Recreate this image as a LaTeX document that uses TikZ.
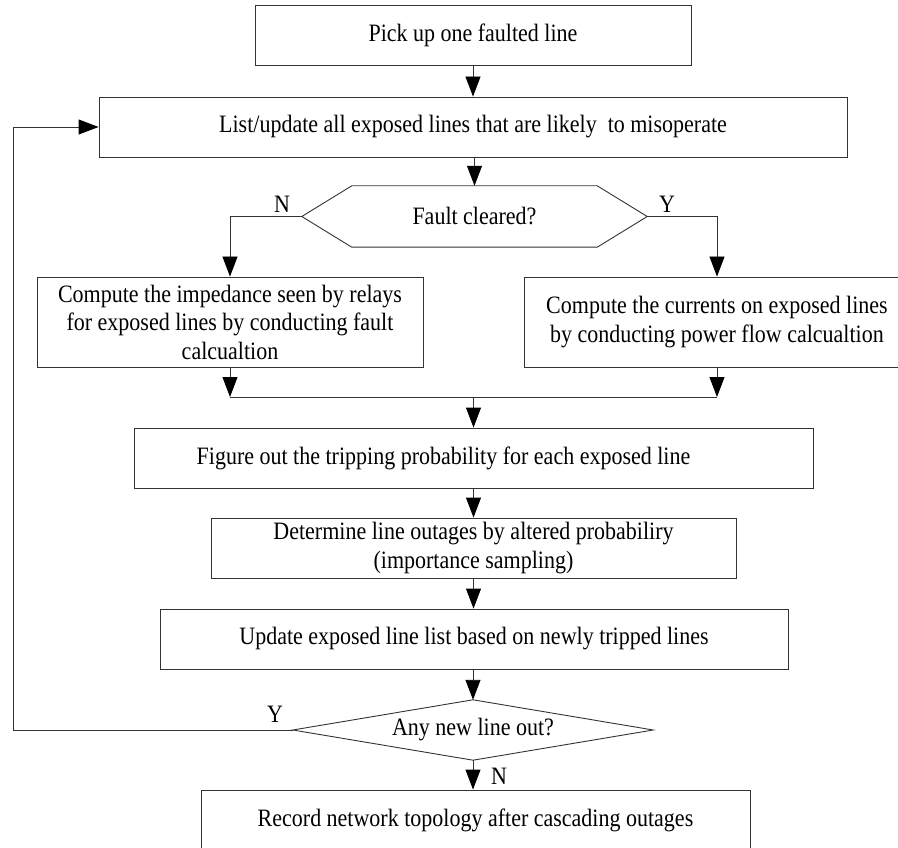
\documentclass[tikz,border=0pt]{standalone}
\usepackage{fontspec}
\setmainfont{Liberation Serif}[FakeStretch=0.88]
\usetikzlibrary{arrows.meta,calc}
\begin{document}
\begin{tikzpicture}[x=1pt,y=-1pt,
  every node/.style={font=\fontsize{25}{28.5}\selectfont, text=black},
  box/.style={draw=black!80, line width=0.9pt, inner sep=0pt, align=center},
  conn/.style={draw=black!80, line width=0.9pt},
  arr/.style={conn, -{Triangle[length=20pt,width=15pt,color=black]}},
  lbl/.style={inner sep=0pt}]
\clip (0,0) rectangle (898,848);

% process steps
\node[box, minimum width=436pt, minimum height=60pt] (pick) at (473,35) {Pick up one faulted line};
\node[box, minimum width=748pt, minimum height=60pt] (list) at (473,127) {List/update all exposed lines that are likely\ \ to misoperate};

% decision: fault cleared (hexagon)
\node[inner sep=0pt, minimum width=345pt, minimum height=61pt] (hex) at (474.5,216.5) {Fault cleared?};
\draw[conn] (hex.west) -- ([xshift=50pt]hex.north west) -- ([xshift=-50pt]hex.north east)
  -- (hex.east) -- ([xshift=-50pt]hex.south east) -- ([xshift=50pt]hex.south west) -- cycle;

\node[box, minimum width=386pt, minimum height=90pt] (imp) at (230,322)
  {Compute the impedance seen by relays\\for exposed lines by conducting fault\\calcualtion};
\node[box, minimum width=386pt, minimum height=90pt] (cur) at (717,322)
  {Compute the currents on exposed lines\\by conducting power flow calcualtion};

\node[box, minimum width=679pt, minimum height=60pt] (fig) at (473.5,458) {};
\node[lbl] (figtxt) at ([xshift=-30pt]fig.center) {Figure out the tripping probability for each exposed line};

\node[box, minimum width=525pt, minimum height=60pt] (det) at (473.5,548)
  {Determine line outages by altered probabiliry\\(importance sampling)};
\node[box, minimum width=628pt, minimum height=60pt] (upd) at (474,639)
  {Update exposed line list based on newly tripped lines};

% decision: any new line out (diamond)
\node[inner sep=0pt, minimum width=360pt, minimum height=60pt] (dia) at (473,730) {Any new line out?};
\draw[conn] (dia.west) -- (dia.north) -- (dia.east) -- (dia.south) -- cycle;

\node[box, minimum width=549pt, minimum height=60pt] (rec) at (475.5,820)
  {Record network topology after cascading outages};

% connectors
\coordinate (jl) at (230,397);
\coordinate (jr) at (717,397);
\coordinate (jm) at (473.5,397);
\coordinate (loop) at (13,730);

\draw[arr] (pick) -- (list);
\draw[arr] (list.south -| hex.north) -- (hex.north);
\draw[arr] (hex.west) -| (imp.north);
\draw[arr] (hex.east) -| (cur.north);
\draw[arr] (imp.south) -- (jl);
\draw[arr] (cur.south) -- (jr);
\draw[conn] (jl) -- (jr);
\draw[arr] (jm) -- (fig.north);
\draw[arr] (fig.south) -- (det.north);
\draw[arr] (det.south) -- (det.south |- upd.north);
\draw[arr] (upd.south -| dia.north) -- (dia.north);
\draw[arr] (dia.south) -- (dia.south |- rec.north);
\draw[arr] (dia.west) -- (loop) |- (list.west);

% branch labels
\node[lbl] (n1) at (282,204) {N};
\node[lbl] (y1) at (667,204) {Y};
\node[lbl] (y2) at (275,714) {Y};
\node[lbl] (n2) at (499,776) {N};
\end{tikzpicture}
\end{document}
